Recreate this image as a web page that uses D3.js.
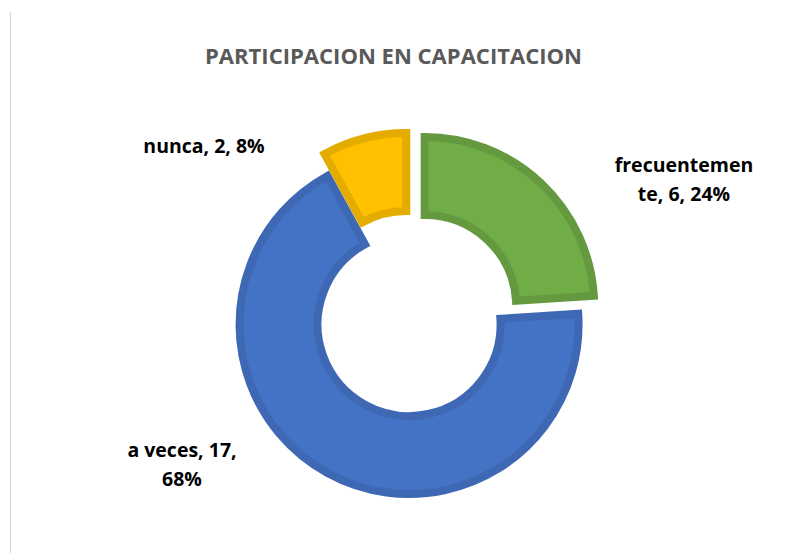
<!DOCTYPE html>
<html>
<head>
<meta charset="utf-8">
<script src="https://cdn.jsdelivr.net/npm/d3@7/dist/d3.min.js"></script>
<style>
  html, body { margin: 0; padding: 0; background: #fff; }
  svg { display: block; }
</style>
</head>
<body>
<svg id="chart" width="806" height="553"></svg>
<script>
// ---- data ----
const title = "PARTICIPACION EN CAPACITACION";
const categories = ["frecuentemente", "a veces", "nunca"];
const values = [6, 17, 2];
const labelLines = [["frecuentemen", "te, 6, 24%"], ["a veces, 17,", "68%"], ["nunca, 2, 8%"]];

// ---- styles / layout (not data) ----
const fills = ["#70AD47", "#4472C4", "#FFC000"];
const strokes = ["#64993F", "#3E68B4", "#E5AC00"];
const explode = [20, 4, 19];
const W = 806, H = 553;
const cx = 411, cy = 321;
const outerR = 169.5, innerR = 91.5, strokeW = 8;
// label anchors (center x, first baseline y) relative to chart center
const labelPos = [[273, -149], [-229, 136], [-207, -168]];
const lineH = 29;

const svg = d3.select("#chart");

// chart area border on left
svg.append("line")
  .attr("x1", 10.5).attr("x2", 10.5).attr("y1", 12).attr("y2", H)
  .attr("stroke", "#D9D9D9").attr("stroke-width", 1.2);

// title
svg.append("text")
  .attr("x", 393.5).attr("y", 64)
  .attr("text-anchor", "middle")
  .attr("font-family", "'Open Sans', sans-serif")
  .attr("font-weight", "bold")
  .attr("font-size", 21)
  .attr("fill", "#595959")
  .attr("textLength", 377)
  .attr("lengthAdjust", "spacingAndGlyphs")
  .text(title);

const pie = d3.pie().sort(null).value(d => d)(values);
const arc = d3.arc().innerRadius(innerR).outerRadius(outerR);

const g = svg.append("g").attr("transform", `translate(${cx},${cy})`);

g.selectAll("path.slice")
  .data(pie)
  .join("path")
  .attr("class", "slice")
  .attr("d", arc)
  .attr("transform", (d, i) => {
    const a = (d.startAngle + d.endAngle) / 2;
    return `translate(${explode[i] * Math.sin(a)},${-explode[i] * Math.cos(a)})`;
  })
  .attr("fill", (d, i) => fills[i])
  .attr("stroke", (d, i) => strokes[i])
  .attr("stroke-width", strokeW)
  .attr("stroke-linejoin", "miter");

// labels
const lbl = g.selectAll("text.lbl")
  .data(pie)
  .join("text")
  .attr("class", "lbl")
  .attr("text-anchor", "middle")
  .attr("font-family", "'Open Sans', sans-serif")
  .attr("font-weight", "bold")
  .attr("font-size", 19.5)
  .attr("fill", "#000");

lbl.each(function(d, i) {
  const t = d3.select(this);
  labelLines[i].forEach((ln, k) => {
    t.append("tspan")
      .attr("x", labelPos[i][0])
      .attr("y", labelPos[i][1] + k * lineH)
      .text(ln);
  });
});
</script>
</body>
</html>
